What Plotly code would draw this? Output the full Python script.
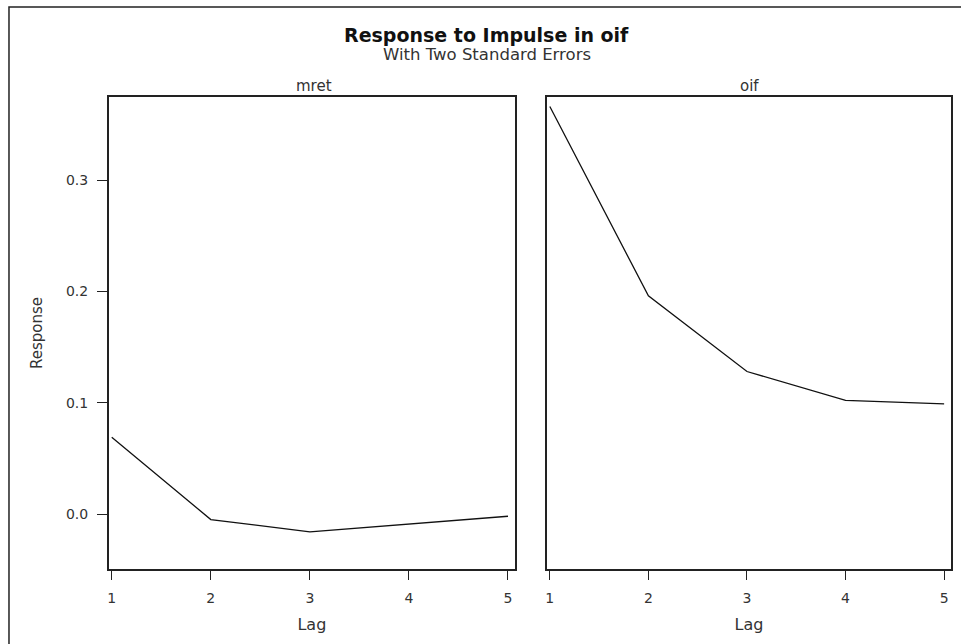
import plotly.graph_objects as go

lags = [1, 2, 3, 4, 5]
mret_resp = [0.069, -0.005, -0.016, -0.009, -0.002]
oif_resp = [0.366, 0.196, 0.128, 0.102, 0.099]
panel_titles = ["mret", "oif"]
y_ticks = [0.0, 0.1, 0.2, 0.3]
y_ticktext = ["0.0", "0.1", "0.2", "0.3"]

W, H = 961, 644
def px(x): return x / W
def py(y): return 1 - y / H

fig = go.Figure()
fig.add_trace(go.Scatter(x=lags, y=mret_resp, mode="lines", line=dict(color="#111", width=1.3),
                         xaxis="x", yaxis="y", showlegend=False))
fig.add_trace(go.Scatter(x=lags, y=oif_resp, mode="lines", line=dict(color="#111", width=1.3),
                         xaxis="x2", yaxis="y2", showlegend=False))

font_main = "DejaVu Sans, sans-serif"
axis_common = dict(showline=True, mirror=True, linecolor="#222", linewidth=1.5,
                   tickcolor="#222", tickwidth=1.2,
                   showgrid=False, zeroline=False,
                   tickfont=dict(family=font_main, size=14, color="#333"))
xr = [0.97, 5.07]
yr = [-0.0494, 0.3746]
fig.update_layout(
    width=W, height=H,
    margin=dict(l=0, r=0, t=0, b=0),
    paper_bgcolor="white", plot_bgcolor="white",
    xaxis=dict(domain=[px(107), px(514)], range=xr, tickvals=lags, anchor="y",
               ticks="outside", ticklen=9, ticklabelstandoff=6,
               title=dict(text="Lag", font=dict(family=font_main, size=16, color="#333"), standoff=14),
               **axis_common),
    xaxis2=dict(domain=[px(546), px(951)], range=xr, tickvals=lags, anchor="y2",
                ticks="outside", ticklen=9, ticklabelstandoff=6,
                title=dict(text="Lag", font=dict(family=font_main, size=16, color="#333"), standoff=14),
                **axis_common),
    yaxis=dict(domain=[py(569), py(97)], range=yr, tickvals=y_ticks, ticktext=y_ticktext, anchor="x",
               ticks="outside", ticklen=10, ticklabelstandoff=6,
               title=dict(text="Response", font=dict(family=font_main, size=15, color="#333"), standoff=20),
               **axis_common),
    yaxis2=dict(domain=[py(569), py(97)], range=yr, tickvals=y_ticks, anchor="x2",
                showticklabels=False, ticks="", **axis_common),
)

annotations = [
    dict(text="<b>Response to Impulse in oif</b>", x=px(486), y=py(35), xref="paper", yref="paper",
         showarrow=False, font=dict(family=font_main, size=19, color="#111"),
         xanchor="center", yanchor="middle"),
    dict(text="With Two Standard Errors", x=px(486), y=py(55), xref="paper", yref="paper",
         showarrow=False, font=dict(family=font_main, size=16.5, color="#333"),
         xanchor="center", yanchor="middle"),
    dict(text=panel_titles[0], x=px(313), y=py(86), xref="paper", yref="paper",
         showarrow=False, font=dict(family=font_main, size=15, color="#333"),
         xanchor="center", yanchor="middle"),
    dict(text=panel_titles[1], x=px(749), y=py(86), xref="paper", yref="paper",
         showarrow=False, font=dict(family=font_main, size=15, color="#333"),
         xanchor="center", yanchor="middle"),
]
fig.update_layout(annotations=annotations)

fig.add_shape(type="rect", xref="paper", yref="paper", x0=px(7), y0=py(7), x1=px(975), y1=py(660),
              line=dict(color="#222", width=1.5))

fig.write_html("out.html")
